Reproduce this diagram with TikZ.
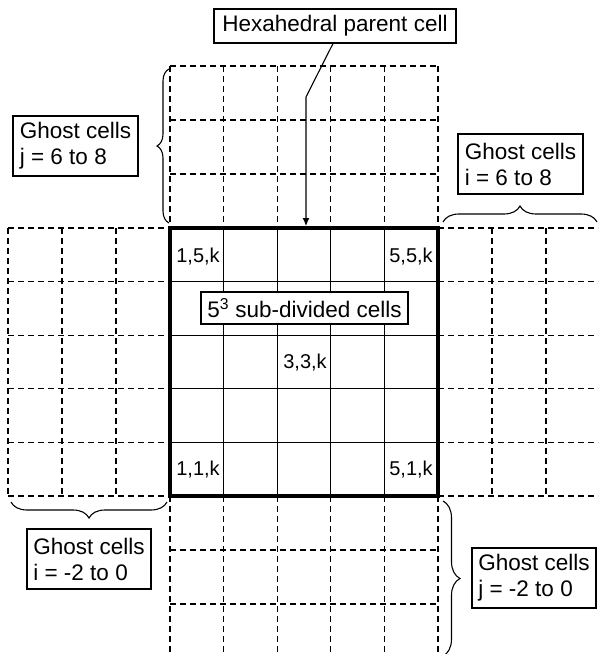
\documentclass[tikz,border=0pt]{standalone}
\usepackage{fontspec}
\setmainfont{Liberation Sans}
\usetikzlibrary{decorations.pathreplacing,arrows.meta}
\begin{document}
\begin{tikzpicture}[x=1pt,y=-1pt,
  ghost/.style={line width=1.2pt, dash pattern=on 6pt off 4pt},
  gridline/.style={line width=1.1pt},
  border/.style={line width=3.4pt},
  lbl/.style={draw, line width=1.1pt, font=\fontsize{22.5}{26}\selectfont, align=left, inner sep=0pt, fill=white},
  cellnum/.style={font=\fontsize{20}{24}\selectfont, inner sep=0pt},
  brc/.style={decorate, decoration={brace, amplitude=#1}, line width=1.1pt},
]
\useasboundingbox (0,0) rectangle (598,654);
\begin{scope}
\clip (0,0) rectangle (598,654);
% top ghost cells
\foreach \y in {66,120,174} \draw[ghost] (170,\y) -- (438,\y);
\foreach \x in {170,223.6,277.2,330.8,384.4,438} \draw[ghost] (\x,66) -- (\x,228);
% left ghost cells
\foreach \y in {228,281.6,335.2,388.8,442.4,496} \draw[ghost] (8,\y) -- (170,\y);
\foreach \x in {8,62,116} \draw[ghost] (\x,228) -- (\x,496);
% right ghost cells
\foreach \y in {228,281.6,335.2,388.8,442.4,496} \draw[ghost] (438,\y) -- (602,\y);
\foreach \x in {492,546,600} \draw[ghost] (\x,228) -- (\x,496);
% bottom ghost cells
\foreach \y in {550,604,658} \draw[ghost] (170,\y) -- (438,\y);
\foreach \x in {170,223.6,277.2,330.8,384.4,438} \draw[ghost] (\x,496) -- (\x,660);
% parent cell
\foreach \x in {223.6,277.2,330.8,384.4} \draw[gridline] (\x,228) -- (\x,496);
\foreach \y in {281.6,335.2,388.8,442.4} \draw[gridline] (170,\y) -- (438,\y);
\draw[border] (170,228) rectangle (438,496);
% braces
\draw[brc=12] (169,223) -- (169,69);
\draw[brc=16] (443,222) -- (597,222);
\draw[brc=16] (167,502) -- (11,502);
\draw[brc=17] (443,501) -- (443,656);
\end{scope}
% cell labels
\node[cellnum] (c15) at (198,257) {1,5,k};
\node[cellnum] (c55) at (411,257) {5,5,k};
\node[cellnum] (c33) at (305,363) {3,3,k};
\node[cellnum] (c11) at (198,470) {1,1,k};
\node[cellnum] (c51) at (411,470) {5,1,k};
% boxes
\node[lbl, minimum width=242pt, minimum height=34pt] (hex) at (335,26) {Hexahedral parent cell};
\node[lbl, minimum width=125pt, minimum height=60pt] (gj68) at (75.5,146) {Ghost cells\\j = 6 to 8};
\node[lbl, minimum width=125pt, minimum height=60pt] (gi68) at (520.5,164) {Ghost cells\\i = 6 to 8};
\node[lbl, minimum width=207pt, minimum height=32pt] (sub) at (304.5,308) {5\textsuperscript{3} sub-divided cells};
\node[lbl, minimum width=124pt, minimum height=60pt] (gi20) at (89,559) {Ghost cells\\i = -2 to 0};
\node[lbl, minimum width=124pt, minimum height=60pt] (gj20) at (534,578) {Ghost cells\\j = -2 to 0};
% arrow
\coordinate (bend) at (306,97);
\coordinate (tip) at (306,226);
\draw[line width=1.1pt, -{Latex[length=8pt,width=7pt]}] ([xshift=-2pt]hex.south) -- (bend) -- (tip);
\end{tikzpicture}
\end{document}
